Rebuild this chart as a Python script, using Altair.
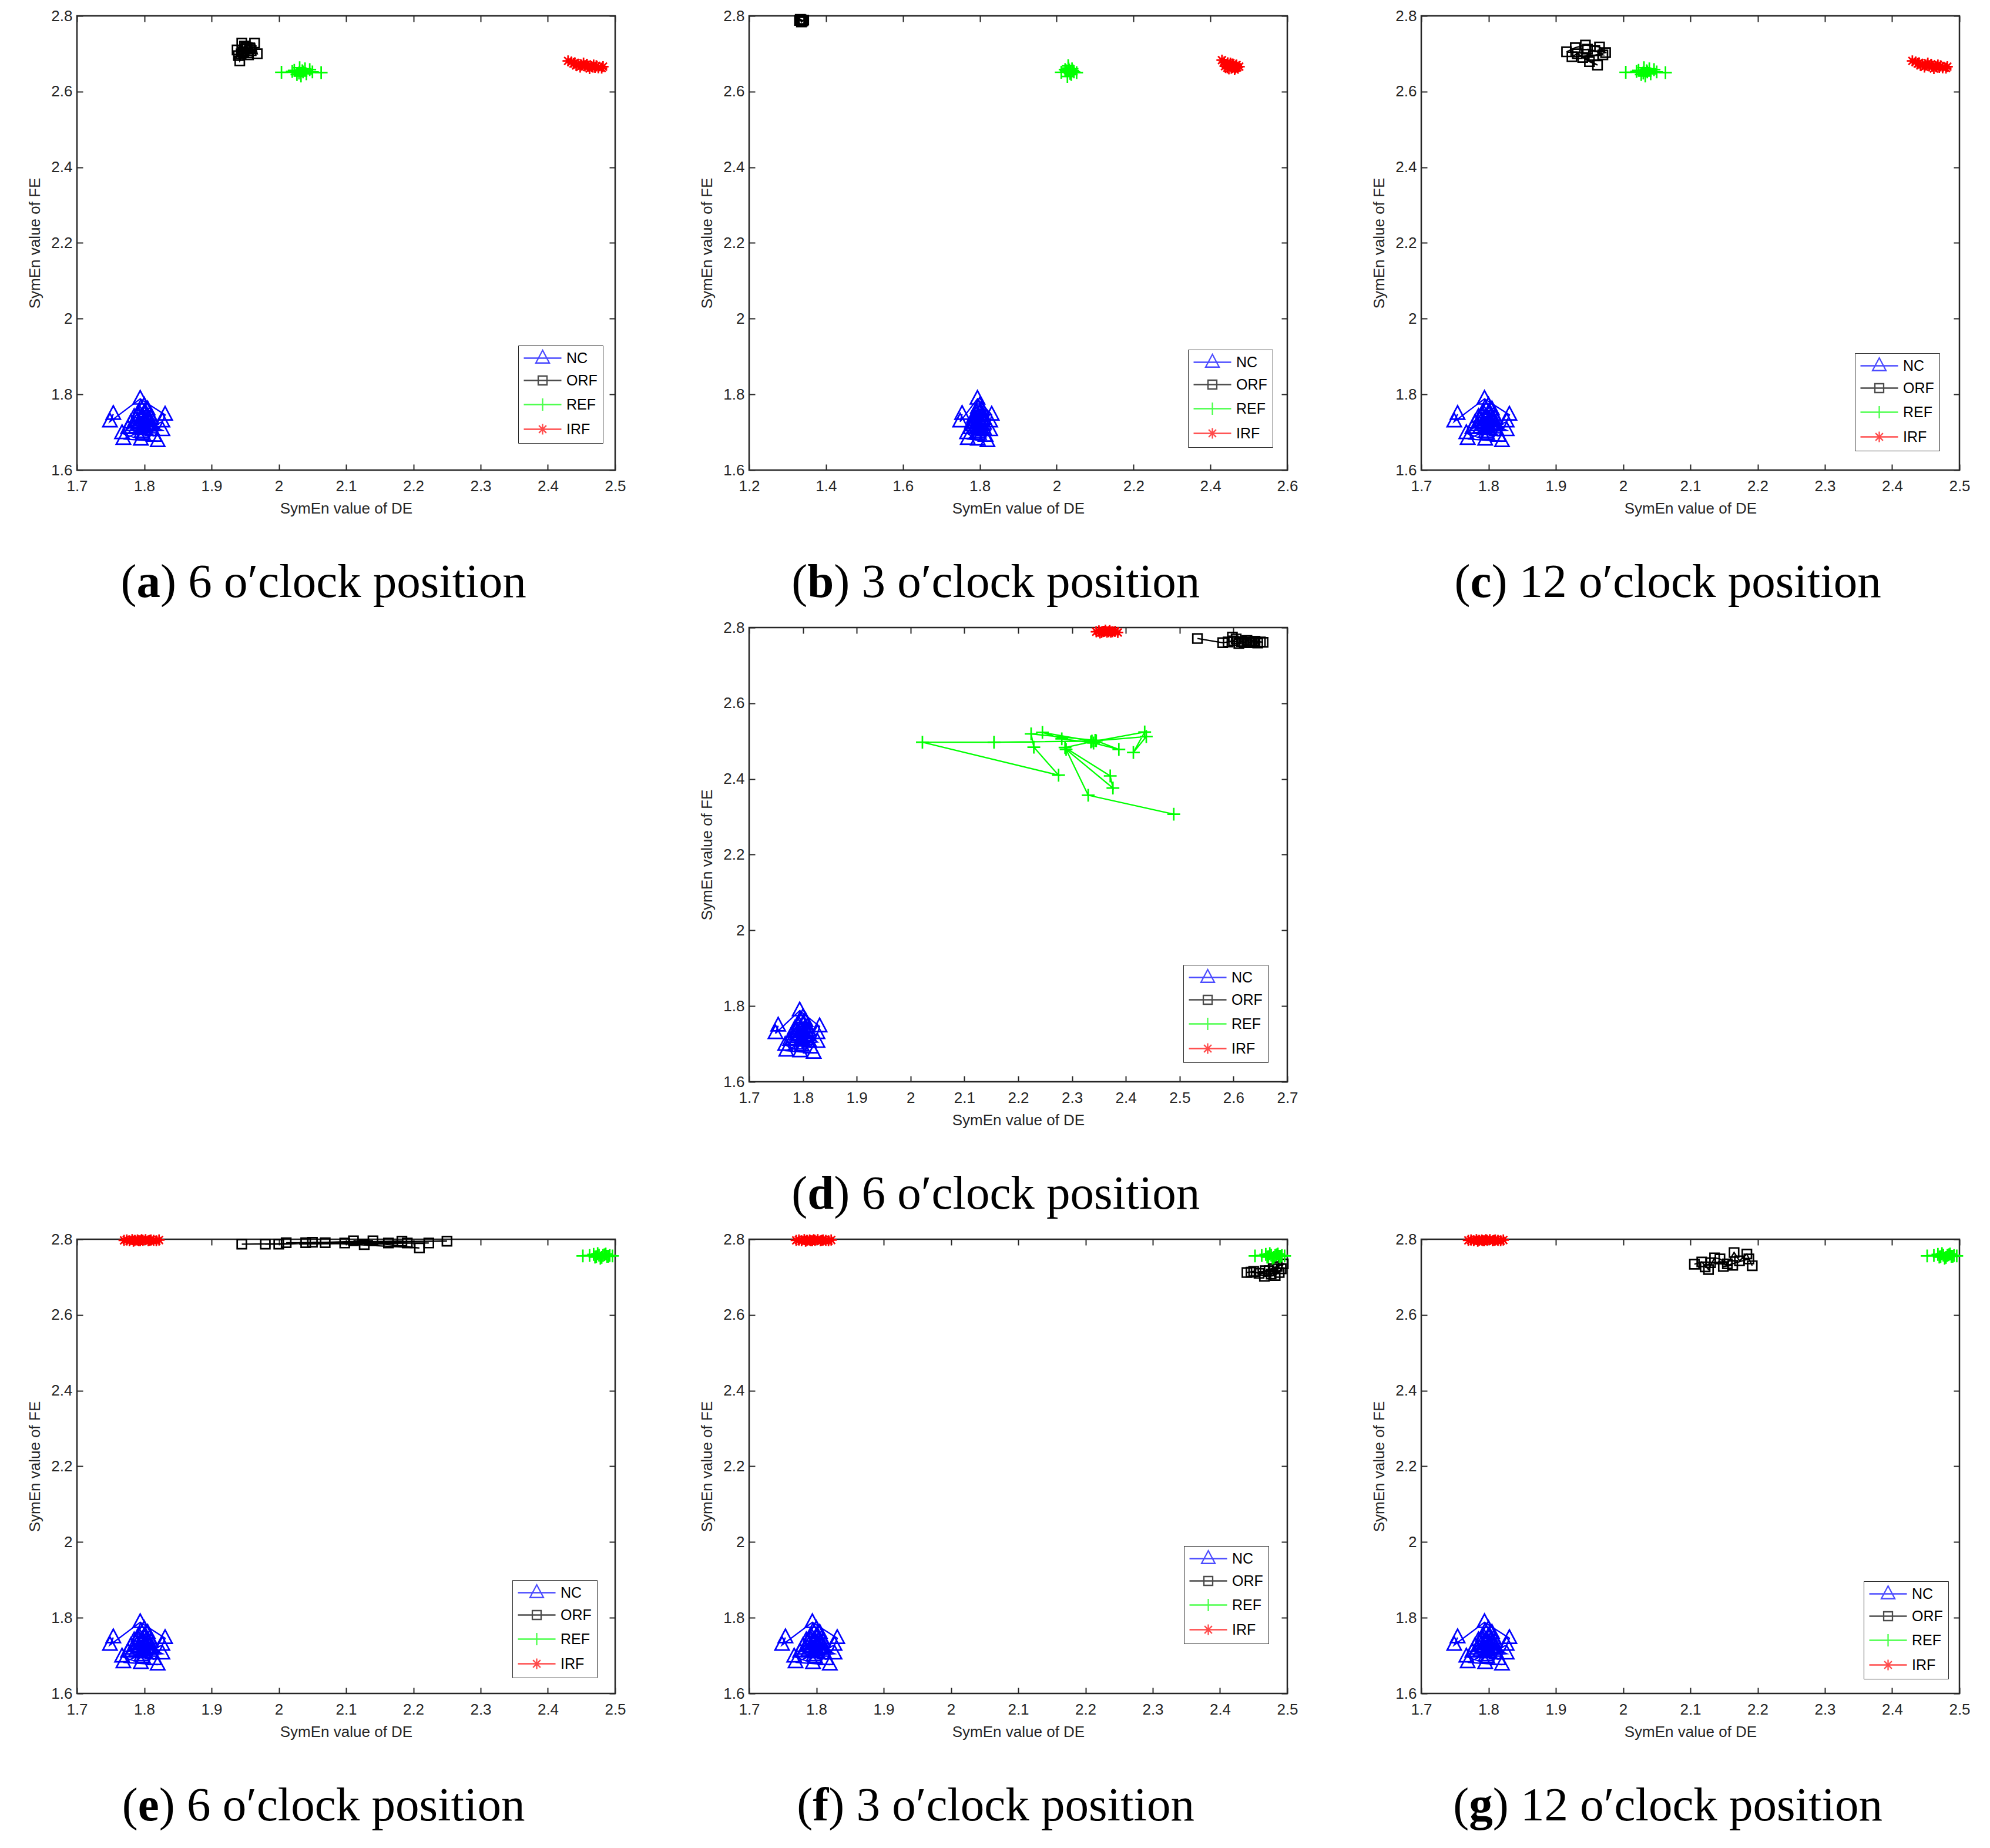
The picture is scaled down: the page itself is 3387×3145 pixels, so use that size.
import altair as alt
import pandas as pd

SERIES = ["NC", "ORF", "REF", "IRF"]
COLORS = ["#0000FF", "#000000", "#00FF00", "#FF0000"]
YTICKS = [1.6, 1.8, 2.0, 2.2, 2.4, 2.6, 2.8]
XTICKS_STD = [1.7, 1.8, 1.9, 2.0, 2.1, 2.2, 2.3, 2.4, 2.5]
XTICKS_B = [1.2, 1.4, 1.6, 1.8, 2.0, 2.2, 2.4, 2.6]
XTICKS_D = [1.7, 1.8, 1.9, 2.0, 2.1, 2.2, 2.3, 2.4, 2.5, 2.6, 2.7]

# ---- data ----
NC_X = [1.754, 1.749, 1.794, 1.831, 1.827, 1.769, 1.820, 1.795, 1.767, 1.827, 1.785, 1.792, 1.800,
        1.805, 1.810, 1.798, 1.788, 1.803, 1.812, 1.780, 1.776, 1.808, 1.796, 1.815, 1.790,
        1.797, 1.802, 1.806, 1.793, 1.799, 1.811, 1.787, 1.804, 1.801, 1.795, 1.809, 1.791,
        1.798, 1.806, 1.783]
NC_Y = [1.748, 1.728, 1.788, 1.746, 1.728, 1.682, 1.676, 1.680, 1.697, 1.705, 1.740, 1.752, 1.770,
        1.760, 1.735, 1.715, 1.712, 1.722, 1.705, 1.725, 1.710, 1.745, 1.700, 1.690, 1.730,
        1.738, 1.728, 1.718, 1.722, 1.708, 1.722, 1.732, 1.742, 1.754, 1.764, 1.712, 1.745,
        1.695, 1.732, 1.718]

ORF_A_X = [1.945, 1.964, 1.968, 1.938, 1.942, 1.953, 1.948, 1.959, 1.940, 1.955, 1.950, 1.946,
           1.951, 1.957, 1.944, 1.949, 1.954]
ORF_A_Y = [2.728, 2.728, 2.700, 2.710, 2.681, 2.716, 2.703, 2.708, 2.695, 2.697, 2.712, 2.705,
           2.718, 2.713, 2.700, 2.720, 2.702]
REF_AC_X = [2.004, 2.063, 2.035, 2.031, 2.020, 2.027, 2.046, 2.050, 2.033, 2.039, 2.023, 2.030, 2.041, 2.036]
REF_AC_Y = [2.651, 2.650, 2.655, 2.663, 2.653, 2.645, 2.658, 2.652, 2.641, 2.660, 2.656, 2.649, 2.647, 2.652]
IRF_AC_X = [2.430, 2.435, 2.440, 2.445, 2.438, 2.450, 2.455, 2.460, 2.465, 2.470,
            2.475, 2.480, 2.468, 2.458, 2.448, 2.472, 2.462, 2.482, 2.442, 2.453]
IRF_AC_Y = [2.681, 2.678, 2.676, 2.672, 2.674, 2.670, 2.668, 2.667, 2.666, 2.664,
            2.663, 2.662, 2.670, 2.672, 2.665, 2.668, 2.661, 2.666, 2.669, 2.675]

ORF_B_X = [1.331, 1.335, 1.338, 1.342, 1.336, 1.333, 1.340, 1.337]
ORF_B_Y = [2.788, 2.790, 2.786, 2.789, 2.784, 2.791, 2.787, 2.788]
REF_B_X = [2.012, 2.025, 2.030, 2.035, 2.040, 2.028, 2.045, 2.052, 2.033, 2.038, 2.022, 2.036, 2.031, 2.042]
REF_B_Y = [2.651, 2.655, 2.668, 2.648, 2.660, 2.640, 2.652, 2.650, 2.657, 2.645, 2.658, 2.653, 2.662, 2.655]
IRF_B_X = [2.430, 2.436, 2.440, 2.445, 2.450, 2.455, 2.460, 2.465, 2.470, 2.448, 2.458, 2.438,
           2.463, 2.452, 2.444, 2.468, 2.475]
IRF_B_Y = [2.683, 2.678, 2.672, 2.676, 2.670, 2.668, 2.665, 2.662, 2.664, 2.660, 2.673, 2.667,
           2.658, 2.675, 2.663, 2.670, 2.666]

ORF_C_X = [1.916, 1.929, 1.944, 1.965, 1.974, 1.956, 1.940, 1.950, 1.962, 1.932, 1.924, 1.970, 1.958, 1.947]
ORF_C_Y = [2.705, 2.716, 2.723, 2.718, 2.703, 2.695, 2.690, 2.679, 2.670, 2.700, 2.692, 2.697, 2.708, 2.712]

ORF_D_X = [2.533, 2.580, 2.590, 2.600, 2.605, 2.610, 2.615, 2.620, 2.625, 2.630, 2.635, 2.640, 2.645, 2.650, 2.655, 2.598]
ORF_D_Y = [2.771, 2.760, 2.762, 2.765, 2.770, 2.758, 2.763, 2.761, 2.766, 2.760, 2.762, 2.764, 2.759, 2.762, 2.761, 2.775]
REF_D_X = [2.489, 2.330, 2.289, 2.376, 2.371, 2.287, 2.335, 2.435, 2.414, 2.438, 2.345,
           2.387, 2.340, 2.281, 2.245, 2.337, 2.155, 2.022, 2.275, 2.229, 2.224, 2.343]
REF_D_Y = [2.307, 2.357, 2.478, 2.376, 2.408, 2.483, 2.498, 2.524, 2.470, 2.512, 2.501,
           2.478, 2.495, 2.506, 2.523, 2.500, 2.497, 2.497, 2.410, 2.484, 2.519, 2.502]
IRF_D_X = [2.345, 2.350, 2.355, 2.360, 2.365, 2.370, 2.375, 2.380, 2.385, 2.352, 2.362, 2.372, 2.358, 2.368]
IRF_D_Y = [2.789, 2.791, 2.787, 2.790, 2.788, 2.792, 2.789, 2.790, 2.787, 2.786, 2.793, 2.788, 2.790, 2.789]

ORF_E_X = [1.945, 2.098, 2.000, 2.183, 2.040, 2.223, 1.980, 2.140, 2.069, 2.250, 2.011, 2.163,
           2.050, 2.209, 2.111, 2.191, 2.127]
ORF_E_Y = [2.787, 2.790, 2.787, 2.795, 2.791, 2.790, 2.787, 2.796, 2.791, 2.795, 2.791, 2.790,
           2.792, 2.777, 2.796, 2.790, 2.786]
REF_EFG_X = [2.452, 2.462, 2.468, 2.472, 2.476, 2.480, 2.484, 2.488, 2.492, 2.496, 2.474, 2.478,
             2.486, 2.470, 2.482, 2.490]
REF_EFG_Y = [2.756, 2.757, 2.760, 2.754, 2.758, 2.752, 2.759, 2.755, 2.757, 2.756, 2.762, 2.750,
             2.761, 2.753, 2.757, 2.755]
IRF_EFG_X = [1.770, 1.774, 1.778, 1.782, 1.786, 1.790, 1.794, 1.798, 1.802, 1.806, 1.810, 1.814,
             1.818, 1.822, 1.784, 1.796, 1.808, 1.792]
IRF_EFG_Y = [2.797, 2.798, 2.796, 2.799, 2.797, 2.798, 2.796, 2.797, 2.799, 2.796, 2.798, 2.797,
             2.796, 2.798, 2.795, 2.799, 2.797, 2.796]

ORF_F_X = [2.440, 2.450, 2.466, 2.482, 2.491, 2.494, 2.479, 2.473, 2.488, 2.467, 2.458, 2.485, 2.476, 2.446]
ORF_F_Y = [2.712, 2.715, 2.702, 2.704, 2.722, 2.735, 2.722, 2.717, 2.712, 2.717, 2.710, 2.728, 2.708, 2.713]

ORF_G_X = [2.106, 2.117, 2.127, 2.136, 2.144, 2.155, 2.165, 2.173, 2.184, 2.192, 2.187, 2.149, 2.163, 2.130, 2.122]
ORF_G_Y = [2.734, 2.740, 2.720, 2.751, 2.748, 2.735, 2.765, 2.743, 2.761, 2.730, 2.748, 2.728, 2.731, 2.738, 2.727]

# ---- styling ----
W, H = 916, 773
MSIZE = 529  # unit = 11.5 px
LSIZE = 484
FONT = "Liberation Sans"
SERIF = "Liberation Serif"

PT_SHAPES = [
    "M0,-1.22L1.05,0.75L-1.05,0.75Z",
    "M-0.68,-0.68H0.68V0.68H-0.68Z",
    "M-0.95,0H0.95M0,-0.95V0.95",
    "M-0.82,0H0.82M0,-0.82V0.82M-0.58,-0.58L0.58,0.58M-0.58,0.58L0.58,-0.58",
]
LG_SHAPES = [
    "M-1.09,0H4.73M1.82,-1.22L2.87,0.75L0.77,0.75Z",
    "M-1.09,0H4.73M1.14,-0.68H2.5V0.68H1.14Z",
    "M-1.09,0H4.73M0.87,0H2.77M1.82,-0.95V0.95",
    "M-1.09,0H4.73M1.0,0H2.64M1.82,-0.82V0.82M1.24,-0.58L2.4,0.58M1.24,0.58L2.4,-0.58",
]

BOLD_W = {"a": 0.5, "b": 0.556, "c": 0.444, "d": 0.556, "e": 0.444, "f": 0.333, "g": 0.5}


def panel_df(data):
    rows = []
    for name, (xs, ys) in data.items():
        for i, (x, y) in enumerate(zip(xs, ys)):
            rows.append({"series": name, "x": x, "y": y, "idx": i})
    return pd.DataFrame(rows)


def caption_layers(letter, hour):
    fs = 81
    w_open = 0.333 * fs
    w_bold = BOLD_W[letter] * fs
    w_rest = (0.333 + 0.25 + 0.5 * len(hour) + 0.25 + 0.5 + 0.275 + 2.166 + 0.25 + 3.223) * fs
    total = w_open + w_bold + w_rest
    x0 = 422 - total / 2
    ybase = H + 216
    cb = alt.Chart(pd.DataFrame({"t": [0]}))
    common = dict(font=SERIF, fontSize=fs, align="left", baseline="alphabetic", color="black")
    c1 = cb.mark_text(text="(", **common).encode(x=alt.value(x0), y=alt.value(ybase))
    c2 = cb.mark_text(text=letter, fontWeight="bold", **common).encode(
        x=alt.value(x0 + w_open), y=alt.value(ybase))
    c3 = cb.mark_text(text=") " + hour + " o\u2032clock position", **common).encode(
        x=alt.value(x0 + w_open + w_bold), y=alt.value(ybase))
    return [c1, c2, c3]


def make_panel(data, xdom, xticks, lx, ly, letter, hour):
    df = panel_df(data)
    base = alt.Chart(df)
    xsc = alt.Scale(domain=xdom, nice=False, zero=False)
    ysc = alt.Scale(domain=[1.6, 2.8], nice=False, zero=False)
    col_sc = alt.Scale(domain=SERIES, range=COLORS)
    axc = dict(domain=False, grid=False, ticks=True, tickSize=10, offset=-10, tickWidth=2,
               tickColor="#262626")
    x_bottom = alt.Axis(orient="bottom", values=xticks, format=".1~f", title="SymEn value of DE",
                        labelPadding=14, titlePadding=12, labelFlush=False, **axc)
    y_left = alt.Axis(orient="left", values=YTICKS, format=".1~f", title="SymEn value of FE",
                      labelPadding=8, titlePadding=14, labelFlush=False, **axc)
    x_top = alt.Axis(orient="top", values=xticks, labels=False, title=None, **axc)
    y_right = alt.Axis(orient="right", values=YTICKS, labels=False, title=None, **axc)

    lines = base.mark_line(strokeWidth=2.3).encode(
        x=alt.X("x:Q", scale=xsc, axis=x_bottom),
        y=alt.Y("y:Q", scale=ysc, axis=y_left),
        color=alt.Color("series:N", scale=col_sc, legend=None),
        order=alt.Order("idx:Q"),
    )
    points = base.mark_point(filled=False, size=MSIZE, strokeWidth=2.7, opacity=1).encode(
        x=alt.X("x:Q", scale=xsc, axis=None),
        y=alt.Y("y:Q", scale=ysc, axis=None),
        color=alt.Color("series:N", scale=col_sc, legend=None),
        shape=alt.Shape("series:N", scale=alt.Scale(domain=SERIES, range=PT_SHAPES), legend=None),
    )
    leg = alt.Legend(title=None, orient="none", legendX=lx, legendY=ly, symbolSize=LSIZE,
                     symbolStrokeWidth=2.3, labelFont=FONT, labelFontSize=25, labelColor="black",
                     labelOffset=48, rowPadding=12, padding=9, strokeColor="#262626",
                     fillColor="white")
    legend_layer = base.mark_point(filled=False, size=LSIZE, strokeWidth=2.3).encode(
        x=alt.X("x:Q", scale=xsc, axis=x_top),
        y=alt.Y("y:Q", scale=ysc, axis=y_right),
        color=alt.Color("series:N", scale=col_sc, legend=leg),
        shape=alt.Shape("series:N", scale=alt.Scale(domain=SERIES, range=LG_SHAPES), legend=leg),
    ).transform_filter("false")

    layers = [lines, points, legend_layer] + caption_layers(letter, hour)
    return alt.layer(*layers).resolve_scale(
        color="independent", shape="independent"
    ).resolve_axis(x="independent", y="independent").resolve_legend(
        color="independent", shape="independent"
    ).properties(width=W, height=H)


def blank():
    return alt.Chart(pd.DataFrame({"v": [0]})).mark_text(text="").encode(
        x=alt.value(0), y=alt.value(0)
    ).properties(width=W, height=H, view=alt.ViewBackground(stroke=None))


STD = [1.7, 2.5]
pa = make_panel({"NC": (NC_X, NC_Y), "ORF": (ORF_A_X, ORF_A_Y), "REF": (REF_AC_X, REF_AC_Y),
                 "IRF": (IRF_AC_X, IRF_AC_Y)}, STD, XTICKS_STD, 751, 561, "a", "6")
pb = make_panel({"NC": (NC_X, NC_Y), "ORF": (ORF_B_X, ORF_B_Y), "REF": (REF_B_X, REF_B_Y),
                 "IRF": (IRF_B_X, IRF_B_Y)}, [1.2, 2.6], XTICKS_B, 747, 568, "b", "3")
pc = make_panel({"NC": (NC_X, NC_Y), "ORF": (ORF_C_X, ORF_C_Y), "REF": (REF_AC_X, REF_AC_Y),
                 "IRF": (IRF_AC_X, IRF_AC_Y)}, STD, XTICKS_STD, 738, 574, "c", "12")
pdd = make_panel({"NC": (NC_X, NC_Y), "ORF": (ORF_D_X, ORF_D_Y), "REF": (REF_D_X, REF_D_Y),
                  "IRF": (IRF_D_X, IRF_D_Y)}, [1.7, 2.7], XTICKS_D, 739, 574, "d", "6")
pe = make_panel({"NC": (NC_X, NC_Y), "ORF": (ORF_E_X, ORF_E_Y), "REF": (REF_EFG_X, REF_EFG_Y),
                 "IRF": (IRF_EFG_X, IRF_EFG_Y)}, STD, XTICKS_STD, 741, 580, "e", "6")
pf = make_panel({"NC": (NC_X, NC_Y), "ORF": (ORF_F_X, ORF_F_Y), "REF": (REF_EFG_X, REF_EFG_Y),
                 "IRF": (IRF_EFG_X, IRF_EFG_Y)}, STD, XTICKS_STD, 740, 522, "f", "3")
pg = make_panel({"NC": (NC_X, NC_Y), "ORF": (ORF_G_X, ORF_G_Y), "REF": (REF_EFG_X, REF_EFG_Y),
                 "IRF": (IRF_EFG_X, IRF_EFG_Y)}, STD, XTICKS_STD, 753, 582, "g", "12")

chart = alt.concat(
    pa, pb, pc, blank(), pdd, blank(), pe, pf, pg,
    columns=3, spacing={"row": 268, "column": 228}, bounds="flush",
    padding={"left": 37, "top": 4, "right": 5, "bottom": 5},
).resolve_scale(
    color="independent", shape="independent", x="independent", y="independent"
).resolve_legend(
    color="independent", shape="independent"
).configure_view(
    stroke="#262626", strokeWidth=2.5
).configure_axis(
    labelFont=FONT, labelFontSize=26, labelColor="#262626",
    titleFont=FONT, titleFontSize=26, titleFontWeight="normal", titleColor="#262626"
)

chart.save("out.html", embed_options={"renderer": "svg", "actions": False})
